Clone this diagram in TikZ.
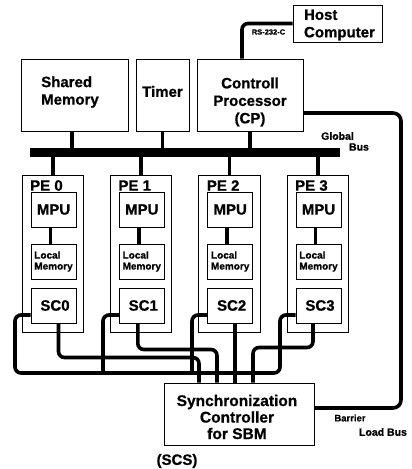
\documentclass[tikz,border=0pt]{standalone}
\usepackage{fontspec}
\setmainfont{Liberation Sans}[BoldFeatures={FakeBold=0.8}]
\usetikzlibrary{calc}
\begin{document}
\begin{tikzpicture}[x=1pt,y=-1pt,
  box/.style={draw,line width=1pt,inner sep=0pt,align=center},
  big/.style={font=\bfseries\fontsize{15}{17.5}\selectfont,inner sep=0pt},
  small/.style={font=\bfseries\fontsize{10}{11}\selectfont,inner sep=0pt},
  wire/.style={line width=3.6pt,rounded corners=6pt},
  drop/.style={line width=3.6pt}]
\useasboundingbox (0,0) rectangle (412,469);

% top boxes
\node[box,minimum width=107,minimum height=72] (sm) at (74.5,95) {};
\node[box,minimum width=53,minimum height=72] (timer) at (162.5,95) {};
\node[box,minimum width=106,minimum height=72] (cp) at (250,95) {};
\node[box,minimum width=89,minimum height=37] (host) at (337.5,23.5) {};
\node[big,align=left] (smt) at (70,92) {Shared\\Memory};
\node[big] (timert) at (162.5,91.5) {Timer};
\node[big,align=center] (cpt) at (250,102) {Controll\\Processor\\(CP)};
\node[big,align=left] (hostt) at (339.5,25) {Host\\Computer};

% global bus
\node[fill=black,minimum width=310,minimum height=9,inner sep=0pt] (bus) at (185,152.5) {};
\node[font=\bfseries\fontsize{10.5}{12}\selectfont,inner sep=0pt] (gl) at (337.5,136) {Global};
\node[font=\bfseries\fontsize{10.5}{12}\selectfont,inner sep=0pt] (gb) at (359,147) {Bus};

\draw[drop] ($(sm.south)+(-2.5,0)$) -- ($(sm.south)+(-2.5,17)$);
\draw[drop] (timer.south) -- (timer.south |- bus.north);
\draw[drop] (cp.south) -- (cp.south |- bus.north);

% host link
\draw[wire] ($(cp.north)+(-8,0)$) |- (host.west);
\node[font=\bfseries\fontsize{7.5}{9}\selectfont,inner sep=0pt] (rs) at (268.5,32) {RS-232-C};

% PEs
\foreach \i/\L in {0/22,1/110.3,2/198.7,3/287}{
  \node[box,line width=0.8pt,minimum width=61.5,minimum height=157] (pe\i) at (\L+30.75,253.5) {};
  \node[big,anchor=west] (pel\i) at (\L+8,185.5) {PE \i};
  \node[box,minimum width=45,minimum height=35,big] (mpu\i) at (\L+31.5,209.5) {MPU};
  \node[box,minimum width=45,minimum height=35,small,align=left] (lm\i) at (\L+31.5,261.5) {Local\\Memory};
  \node[box,minimum width=45,minimum height=35,big] (sc\i) at (\L+31.5,305.5) {\hspace{3pt}SC\i};
  \draw[drop] (pe\i.north |- bus.south) -- (pe\i.north);
  \draw[drop] ($(mpu\i.south)+(-3,0)$) -- ($(lm\i.north)+(-3,0)$);
}

% SCS
\node[box,minimum width=150,minimum height=62] (scs) at (239,414) {};
\node[font=\bfseries\fontsize{15.5}{16.5}\selectfont,inner sep=0pt,align=center] (scst) at (237,417) {Synchronization\\Controller\\for SBM};
\node[big] (scsl) at (177,461) {(SCS)};

% barrier common line
\coordinate (bl) at (15,373);
\coordinate (br) at (280,373);
\coordinate (j1) at (103,373);
\coordinate (j2) at (192,373);
\draw[wire] ($(sc0.west)+(0,9.5)$) -| (bl) -- (br) |- ($(sc3.west)+(0,9.5)$);
\draw[wire] ($(sc1.west)+(0,9.5)$) -| (j1);
\draw[wire] ($(sc2.west)+(0,9.5)$) -| (j2);

% SC to SCS
\draw[wire] ([xshift=5pt]sc0.south) |- ($(scs.north)+(-40,-25)$) -- ($(scs.north)+(-40,0)$);
\draw[wire] ([xshift=-4pt]sc1.south) |- ($(scs.north)+(-22,-33)$) -- ($(scs.north)+(-22,0)$);
\draw[drop] ([xshift=4.8pt]sc2.south) -- ($(scs.north)+(-4,0)$);
\draw[wire] ([xshift=-5.5pt]sc3.south) |- ($(scs.north)+(14,-35)$) -- ($(scs.north)+(14,0)$);

% barrier load bus
\coordinate (rb) at (401,408);
\draw[wire,rounded corners=8pt] ($(cp.east)+(0,18)$) -| (rb) -- ($(scs.east)+(0,-6)$);
\node[font=\bfseries\fontsize{9.5}{11}\selectfont,inner sep=0pt] (bar) at (350,418) {Barrier};
\node[font=\bfseries\fontsize{10.5}{12}\selectfont,inner sep=0pt] (lb) at (383,432) {Load Bus};
\end{tikzpicture}
\end{document}
